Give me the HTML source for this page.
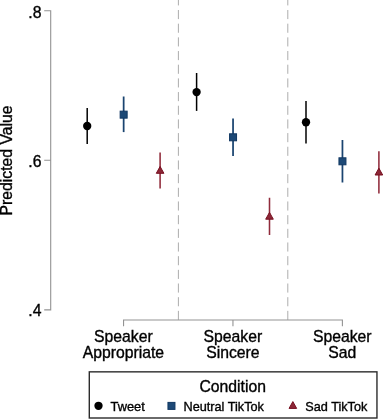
<!DOCTYPE html>
<html><head><meta charset="utf-8"><title>Predicted Value by Condition</title>
<style>
html,body{margin:0;padding:0;background:#fff;}
body{width:384px;height:420px;overflow:hidden;}
svg{display:block;}
text{font-family:"Liberation Sans",Arial,Helvetica,sans-serif;fill:#000;stroke:#000;stroke-width:0.35px;}
</style></head><body>
<svg xmlns="http://www.w3.org/2000/svg" width="384" height="420" viewBox="0 0 384 420">
<rect width="384" height="420" fill="#fff"/>
<line x1="178.4" y1="-3.675" x2="178.4" y2="320" stroke="#adadad" stroke-width="1" stroke-dasharray="9.1 4.575"/>
<line x1="287.8" y1="-3.675" x2="287.8" y2="320" stroke="#adadad" stroke-width="1" stroke-dasharray="9.1 4.575"/>
<path d="M44.2 10.75H50.7V309.9H44.2M44.2 160.25H50.7" fill="none" stroke="#939393" stroke-width="1.1"/>
<path d="M123.55 326.3V320.05H342.4V326.3M232.95 320.05V326.3" fill="none" stroke="#939393" stroke-width="1.1"/>
<text x="41.4" y="17.5" font-size="15.75" text-anchor="end">.8</text>
<text x="41.4" y="167.1" font-size="15.75" text-anchor="end">.6</text>
<text x="41.4" y="316.45" font-size="15.75" text-anchor="end">.4</text>
<text transform="translate(12.3,160.4) rotate(-90)" font-size="15.75" text-anchor="middle">Predicted Value</text>
<text x="123.4" y="341.75" font-size="15.75" text-anchor="middle">Speaker</text>
<text x="123.4" y="358" font-size="15.75" text-anchor="middle">Appropriate</text>
<text x="232.9" y="341.75" font-size="15.75" text-anchor="middle">Speaker</text>
<text x="232.9" y="358" font-size="15.75" text-anchor="middle">Sincere</text>
<text x="342.3" y="341.75" font-size="15.75" text-anchor="middle">Speaker</text>
<text x="342.3" y="358" font-size="15.75" text-anchor="middle">Sad</text>
<line x1="87.2" y1="108.1" x2="87.2" y2="144.0" stroke="#000" stroke-width="1.5"/>
<circle cx="87.2" cy="126.0" r="4.15" fill="#000"/>
<line x1="123.65" y1="96.5" x2="123.65" y2="132.1" stroke="#1a4470" stroke-width="1.75"/>
<rect x="120.15" y="111.15" width="7" height="7" fill="#1d4976" stroke="#113863" stroke-width="1"/>
<line x1="160.1" y1="152.5" x2="160.1" y2="188.4" stroke="#902b3b" stroke-width="1.55"/>
<polygon points="160.10,166.50 163.90,173.30 156.30,173.30" fill="#8c2737" stroke="#770e1f" stroke-width="1" stroke-linejoin="miter"/>
<line x1="196.6" y1="73.0" x2="196.6" y2="110.9" stroke="#000" stroke-width="1.5"/>
<circle cx="196.6" cy="92.1" r="4.15" fill="#000"/>
<line x1="233.05" y1="118.6" x2="233.05" y2="156.1" stroke="#1a4470" stroke-width="1.75"/>
<rect x="229.55" y="133.80" width="7" height="7" fill="#1d4976" stroke="#113863" stroke-width="1"/>
<line x1="269.5" y1="197.75" x2="269.5" y2="235.0" stroke="#902b3b" stroke-width="1.55"/>
<polygon points="269.50,212.40 273.30,219.20 265.70,219.20" fill="#8c2737" stroke="#770e1f" stroke-width="1" stroke-linejoin="miter"/>
<line x1="306.0" y1="101.0" x2="306.0" y2="143.5" stroke="#000" stroke-width="1.5"/>
<circle cx="306.0" cy="122.25" r="4.15" fill="#000"/>
<line x1="342.45" y1="140.0" x2="342.45" y2="182.5" stroke="#1a4470" stroke-width="1.75"/>
<rect x="338.95" y="157.80" width="7" height="7" fill="#1d4976" stroke="#113863" stroke-width="1"/>
<line x1="378.9" y1="151.25" x2="378.9" y2="193.5" stroke="#902b3b" stroke-width="1.55"/>
<polygon points="378.90,168.20 382.70,175.00 375.10,175.00" fill="#8c2737" stroke="#770e1f" stroke-width="1" stroke-linejoin="miter"/>
<rect x="89.3" y="371.85" width="287.65" height="46.15" fill="#fff" stroke="#2c2c2c" stroke-width="1.4"/>
<text x="232.75" y="391.5" font-size="15.75" text-anchor="middle">Condition</text>
<circle cx="98.5" cy="405.8" r="4.15" fill="#000"/>
<text x="110.5" y="411" font-size="12.85">Tweet</text>
<rect x="167.95" y="402.40" width="7" height="7" fill="#1d4976" stroke="#113863" stroke-width="1"/>
<text x="183.5" y="411" font-size="12.7">Neutral TikTok</text>
<polygon points="292.85,401.60 296.65,408.40 289.05,408.40" fill="#8c2737" stroke="#770e1f" stroke-width="1" stroke-linejoin="miter"/>
<text x="305.3" y="411" font-size="12.7">Sad TikTok</text>
</svg></body></html>
